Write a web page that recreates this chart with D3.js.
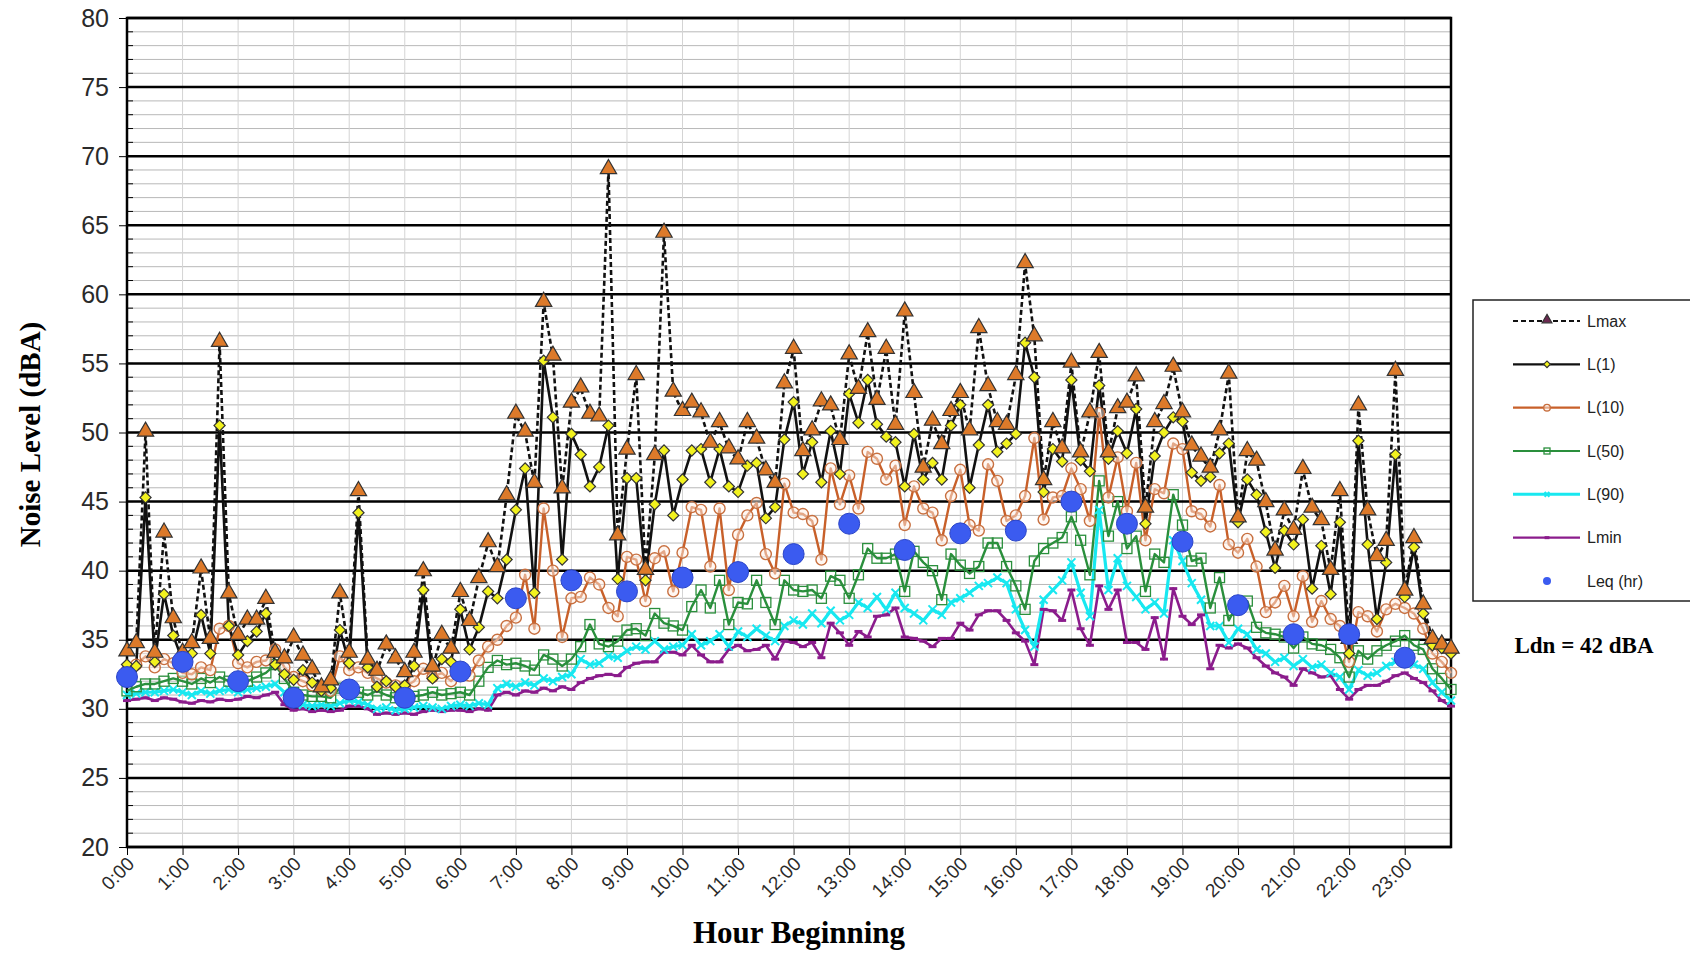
<!DOCTYPE html>
<html>
<head>
<meta charset="utf-8">
<script src="https://cdn.jsdelivr.net/npm/d3@7"></script>
<style>
  body { margin: 0; background: #fff; }
  svg { display: block; }
</style>
</head>
<body>
<div id="vis"></div>
<script>
// 10-minute readings, 0:00 .. 23:50
const hourLabels = d3.range(24).map(h => h + ":00");

const lmax = [
    34.1, 34.7, 50.0, 34.0, 42.7, 36.5, 34.0, 34.7, 40.1, 35.0, 56.5, 38.3,
    35.3, 36.4, 36.4, 37.9, 34.0, 33.6, 35.1, 33.8, 32.8, 31.5, 32.0, 38.3,
    34.0, 45.7, 33.5, 32.7, 34.6, 33.6, 32.6, 34.0, 39.9, 33.0, 35.3, 34.3,
    38.4, 36.3, 39.4, 42.0, 40.2, 45.4, 51.3, 50.0, 46.3, 59.4, 55.5, 45.9,
    52.1, 53.2, 51.3, 51.1, 69.0, 42.5, 48.7, 54.1, 40.0, 48.3, 64.4, 52.9,
    51.5, 52.1, 51.4, 49.2, 50.7, 48.8, 48.0, 50.7, 49.5, 47.2, 46.3, 53.5,
    56.0, 48.6, 50.1, 52.2, 51.9, 49.4, 55.6, 53.1, 57.2, 52.3, 56.0, 50.5,
    58.7, 52.8, 47.4, 50.8, 49.1, 51.5, 52.8, 50.1, 57.5, 53.3, 50.7, 50.5,
    54.1, 62.2, 56.9, 46.5, 50.7, 48.8, 55.0, 48.5, 51.4, 55.7, 48.5, 51.7,
    52.1, 54.0, 44.5, 50.7, 52.0, 54.7, 51.4, 49.0, 48.2, 47.4, 50.1, 54.2,
    43.8, 48.6, 47.9, 44.9, 41.4, 44.3, 42.9, 47.3, 44.5, 43.6, 40.0, 45.7,
    35.0, 51.9, 44.3, 41.0, 42.1, 54.4, 38.5, 42.3, 37.5, 35.0, 34.6, 34.3
];

const l1 = [
    33.2, 33.1, 45.3, 33.4, 38.3, 35.3, 33.5, 34.0, 36.8, 34.0, 50.5, 36.0,
    33.9, 34.9, 35.6, 36.9, 33.2, 32.5, 32.1, 32.8, 31.9, 31.3, 31.5, 35.7,
    33.3, 44.2, 33.0, 31.6, 32.0, 31.6, 31.7, 33.1, 38.6, 32.2, 33.6, 33.4,
    37.2, 34.3, 35.9, 38.5, 38.0, 40.8, 44.4, 47.4, 38.4, 55.2, 51.1, 40.8,
    49.9, 48.4, 46.1, 47.5, 50.5, 39.4, 46.7, 46.7, 39.3, 44.8, 48.7, 44.0,
    46.6, 48.7, 48.8, 46.4, 48.8, 46.1, 45.7, 47.6, 47.8, 43.8, 44.6, 49.5,
    52.2, 47.0, 49.3, 46.4, 50.1, 47.0, 52.8, 50.7, 53.8, 50.6, 49.7, 49.3,
    46.1, 49.9, 46.6, 47.8, 46.6, 50.5, 52.0, 46.0, 49.1, 52.0, 48.6, 49.2,
    49.9, 56.5, 54.0, 45.7, 48.8, 47.9, 53.8, 48.0, 47.2, 53.4, 48.1, 50.1,
    48.5, 51.7, 43.4, 48.3, 50.0, 51.1, 50.8, 47.1, 46.5, 46.8, 48.5, 49.2,
    43.5, 46.6, 45.5, 42.8, 40.2, 42.9, 41.9, 43.7, 38.7, 41.8, 38.3, 43.5,
    34.0, 49.4, 41.9, 36.5, 40.6, 48.4, 38.1, 41.7, 36.9, 34.6, 34.4, 34.0
];

const l10 = [
    32.8, 33.2, 33.8, 33.0, 33.6, 33.3, 32.6, 32.5, 33.0, 32.8, 35.8, 36.0,
    33.3, 33.0, 33.4, 33.5, 34.3, 33.0, 32.3, 32.0, 31.7, 31.4, 31.3, 33.8,
    32.8, 33.0, 32.6, 32.2, 31.9, 31.7, 31.6, 32.0, 32.9, 32.3, 32.6, 32.0,
    32.8, 32.4, 33.5, 34.5, 35.0, 36.0, 36.6, 39.7, 35.8, 44.5, 40.0, 35.2,
    38.0, 38.1, 39.5, 39.0, 37.3, 36.7, 41.0, 40.8, 37.8, 40.9, 41.4, 38.5,
    41.3, 44.6, 44.4, 40.3, 44.5, 38.6, 42.6, 44.0, 44.9, 41.2, 39.8, 46.3,
    44.2, 44.1, 43.6, 40.8, 47.4, 44.8, 46.9, 44.5, 48.6, 48.1, 46.6, 47.6,
    43.3, 46.1, 44.5, 44.2, 42.2, 45.4, 47.3, 43.3, 42.9, 47.7, 46.5, 43.6,
    44.0, 45.4, 49.6, 43.7, 45.3, 45.4, 47.4, 45.9, 43.6, 51.4, 45.3, 48.2,
    44.3, 47.8, 42.2, 45.9, 45.6, 49.2, 48.8, 44.3, 44.1, 43.2, 46.2, 41.9,
    41.3, 42.3, 40.3, 37.0, 37.7, 38.9, 36.7, 39.6, 36.3, 37.8, 36.5, 36.0,
    33.4, 37.0, 36.7, 35.6, 37.2, 37.6, 37.3, 36.9, 35.8, 34.0, 33.4, 32.6
];

const l50 = [
    31.3, 31.6, 31.8, 31.8, 32.0, 32.2, 32.0, 31.8, 32.2, 31.9, 32.3, 32.0,
    31.8, 32.0, 32.3, 32.6, 33.2, 32.2, 31.2, 31.0, 30.9, 30.9, 30.8, 31.5,
    31.4, 31.2, 31.0, 31.3, 31.0, 30.8, 30.8, 30.9, 31.0, 31.2, 31.0, 31.1,
    31.2, 31.0, 32.0, 33.0, 33.5, 33.2, 33.3, 33.1, 32.8, 33.9, 33.6, 33.1,
    33.6, 34.5, 36.1, 34.7, 34.5, 34.9, 35.7, 35.8, 35.3, 36.9, 36.2, 36.0,
    35.7, 37.4, 38.6, 37.3, 39.3, 36.1, 37.7, 37.6, 39.3, 37.7, 36.1, 39.3,
    38.6, 38.5, 38.6, 38.0, 39.6, 39.3, 38.0, 39.7, 41.6, 40.9, 40.9, 41.2,
    38.5, 41.4, 40.6, 40.0, 37.9, 41.2, 40.4, 39.8, 40.3, 42.0, 42.0, 40.3,
    38.9, 37.2, 40.7, 41.6, 42.0, 42.4, 43.9, 42.2, 39.7, 46.5, 42.5, 45.0,
    41.6, 42.5, 38.5, 41.2, 40.6, 45.5, 43.3, 40.7, 40.9, 37.3, 39.5, 36.4,
    37.7, 37.8, 35.9, 35.5, 35.4, 35.2, 34.4, 35.2, 34.7, 34.6, 34.3, 33.7,
    32.3, 34.2, 33.6, 34.2, 34.6, 34.9, 35.3, 34.6, 34.3, 32.9, 32.2, 31.4
];

const l90 = [
    31.0, 31.1, 31.2, 31.2, 31.3, 31.4, 31.2, 31.0, 31.3, 31.1, 31.3, 31.4,
    31.2, 31.4, 31.5, 31.6, 31.8, 31.2, 30.5, 30.3, 30.2, 30.3, 30.2, 30.4,
    30.6, 30.5, 30.3, 30.0, 30.1, 29.9, 30.0, 30.1, 30.2, 30.1, 30.0, 30.2,
    30.3, 30.2, 30.4, 30.3, 31.5, 31.8, 31.6, 31.9, 31.7, 32.2, 32.0, 32.3,
    32.5, 33.6, 33.2, 33.3, 33.8, 33.7, 34.2, 34.5, 34.3, 34.9, 34.3, 34.5,
    34.6, 35.4, 34.6, 34.9, 35.4, 34.5, 35.6, 35.2, 35.8, 35.3, 34.9, 36.0,
    36.4, 36.1, 36.9, 36.2, 37.1, 36.4, 36.8, 37.7, 37.3, 38.1, 37.2, 38.4,
    37.3, 36.9, 36.4, 37.2, 36.8, 37.7, 38.0, 38.4, 38.9, 39.1, 39.5, 39.1,
    37.2, 35.7, 34.5, 37.9, 38.6, 39.3, 40.6, 38.4, 36.7, 44.4, 38.6, 40.9,
    38.9, 38.1, 37.2, 37.7, 36.9, 42.2, 40.7, 39.1, 37.9, 36.0, 36.0, 34.8,
    35.8, 35.4, 34.3, 34.0, 33.4, 33.7, 33.1, 33.6, 33.0, 33.2, 32.6, 32.3,
    31.4, 32.8, 32.4, 32.6, 33.1, 33.4, 33.7, 33.2, 32.9, 31.9, 31.2, 30.6
];

const lmin = [
    30.6, 30.7, 30.8, 30.6, 30.8, 30.7, 30.5, 30.4, 30.6, 30.5, 30.7, 30.6,
    30.7, 30.9, 30.8, 31.0, 31.2, 30.3, 29.9, 30.0, 29.8, 29.9, 29.8, 29.9,
    30.2, 30.2, 30.0, 29.6, 29.7, 29.6, 29.7, 29.6, 29.8, 29.9, 29.8, 29.9,
    29.9, 29.8, 30.0, 29.9, 31.0, 31.2, 31.0, 31.3, 31.2, 31.5, 31.3, 31.6,
    31.4, 31.9, 32.2, 32.4, 32.5, 32.4, 33.0, 33.3, 33.4, 33.4, 34.1, 34.1,
    33.9, 34.6, 33.9, 33.4, 33.4, 34.3, 34.6, 34.2, 34.3, 34.6, 33.6, 34.9,
    34.8, 34.5, 34.8, 33.7, 36.2, 35.5, 34.6, 35.6, 35.2, 36.7, 36.8, 37.3,
    35.2, 35.1, 34.9, 34.5, 35.1, 35.1, 36.2, 35.7, 36.8, 37.1, 37.1, 36.4,
    35.5, 34.9, 33.2, 37.2, 37.1, 36.4, 38.6, 35.8, 34.6, 38.9, 37.2, 38.6,
    34.8, 34.8, 34.3, 36.6, 33.6, 38.7, 36.7, 36.1, 36.8, 32.9, 34.6, 34.4,
    34.7, 34.4, 33.7, 33.1, 32.6, 32.3, 31.7, 32.9, 32.6, 32.3, 32.4, 31.4,
    30.7, 31.4, 31.7, 31.7, 32.0, 32.4, 32.6, 32.2, 31.9, 31.3, 30.6, 30.2
];

// hourly Leq, one per hour beginning
const leqHr = [
    32.3, 33.4, 32.0, 30.8, 31.4, 30.8, 32.7, 38.0, 39.3, 38.5, 39.5, 39.9,
    41.2, 43.4, 41.5, 42.7, 42.9, 45.0, 43.4, 42.1, 37.5, 35.4, 35.4, 33.7
];

const ldnText = "Ldn = 42 dBA";

const W = 1690, H = 955;
const svg = d3.select("#vis").append("svg")
    .attr("width", W)
    .attr("height", H)
    .style("font-family", "'Liberation Sans', Arial, sans-serif");

const x = d3.scaleLinear().domain([0, 143]).range([127, 1451]);
const y = d3.scaleLinear().domain([20, 80]).range([847, 18]);

// grid
const grid = svg.append("g");
grid.selectAll("line.minor")
    .data(d3.range(21, 80).filter(v => v % 5 !== 0))
    .join("line")
    .attr("x1", x(0)).attr("x2", x(143))
    .attr("y1", d => y(d)).attr("y2", d => y(d))
    .attr("stroke", "#b8b8b8")
    .attr("stroke-width", 1);

grid.selectAll("line.vert")
    .data(d3.range(6, 144, 6))
    .join("line")
    .attr("x1", d => x(d)).attr("x2", d => x(d))
    .attr("y1", y(80)).attr("y2", y(20))
    .attr("stroke", "#d4d4d4")
    .attr("stroke-width", 1);

grid.selectAll("line.major")
    .data(d3.range(20, 81, 5))
    .join("line")
    .attr("x1", x(0)).attr("x2", x(143))
    .attr("y1", d => y(d)).attr("y2", d => y(d))
    .attr("stroke", "#000")
    .attr("stroke-width", 2.5);

// minor ticks on y axis
svg.append("g").selectAll("line")
    .data(d3.range(20, 81))
    .join("line")
    .attr("x1", x(0)).attr("x2", x(0) + 6)
    .attr("y1", d => y(d)).attr("y2", d => y(d))
    .attr("stroke", "#000");

// axes
const yAxis = svg.append("g")
    .attr("transform", `translate(${x(0)},0)`)
    .call(d3.axisLeft(y).tickValues(d3.range(20, 81, 5)).tickSize(8).tickPadding(10));
yAxis.select(".domain").remove();
yAxis.selectAll("text")
    .attr("font-size", 25)
    .attr("fill", "#2a2a2a");

const xAxis = svg.append("g")
    .attr("transform", `translate(0,${y(20)})`)
    .call(d3.axisBottom(x).tickValues(d3.range(0, 144, 6)).tickFormat(i => hourLabels[i / 6]).tickSize(8));
xAxis.select(".domain").remove();
xAxis.selectAll("text")
    .attr("font-size", 19)
    .attr("fill", "#2a2a2a")
    .attr("text-anchor", "end")
    .attr("x", 0).attr("y", 0).attr("dy", 0)
    .attr("transform", "translate(8,18) rotate(-45)");

// frame
svg.append("rect")
    .attr("x", x(0)).attr("y", y(80))
    .attr("width", x(143) - x(0)).attr("height", y(20) - y(80))
    .attr("fill", "none")
    .attr("stroke", "#000")
    .attr("stroke-width", 2.5);

// series
const line = d3.line().x((d, i) => x(i)).y(d => y(d));
const plot = svg.append("g");

const series = [
    { name: "Lmin", values: lmin, color: "#8b1c8c", width: 2.6, dash: null },
    { name: "L(90)", values: l90, color: "#18e8f0", width: 3.2, dash: null },
    { name: "L(50)", values: l50, color: "#2a8f3c", width: 2.4, dash: null },
    { name: "L(10)", values: l10, color: "#c8602a", width: 2.4, dash: null },
    { name: "L(1)", values: l1, color: "#111", width: 2.6, dash: null },
    { name: "Lmax", values: lmax, color: "#111", width: 2.6, dash: "5,3" }
];

series.forEach(s => {
    plot.append("path")
        .datum(s.values)
        .attr("d", line)
        .attr("fill", "none")
        .attr("stroke", s.color)
        .attr("stroke-width", s.width)
        .attr("stroke-dasharray", s.dash)
        .attr("stroke-linejoin", "round");
});

function drawMarkers(g, name, px, py, small) {
    const k = small ? 0.6 : 1;
    if (name === "Lmin") {
        g.append("line")
            .attr("x1", px - 4 * k).attr("x2", px + 4 * k)
            .attr("y1", py).attr("y2", py)
            .attr("stroke", "#8b1c8c").attr("stroke-width", 3);
    } else if (name === "L(90)") {
        g.append("path")
            .attr("d", `M${px - 4 * k},${py - 4 * k}L${px + 4 * k},${py + 4 * k}M${px - 4 * k},${py + 4 * k}L${px + 4 * k},${py - 4 * k}`)
            .attr("stroke", "#18e8f0").attr("stroke-width", 2);
    } else if (name === "L(50)") {
        g.append("rect")
            .attr("x", px - 5 * k).attr("y", py - 5 * k)
            .attr("width", 10 * k).attr("height", 10 * k)
            .attr("fill", "none").attr("stroke", "#2a8f3c").attr("stroke-width", 1.3);
    } else if (name === "L(10)") {
        g.append("circle")
            .attr("cx", px).attr("cy", py).attr("r", 5.5 * k)
            .attr("fill", "rgba(255,240,230,0.5)").attr("stroke", "#c87040").attr("stroke-width", 1.4);
    } else if (name === "L(1)") {
        g.append("path")
            .attr("transform", `translate(${px},${py}) rotate(45)`)
            .attr("d", d3.symbol(d3.symbolSquare, 62 * k * k)())
            .attr("fill", "#f2f21e").attr("stroke", "#333").attr("stroke-width", 1.2);
    } else if (name === "Lmax") {
        g.append("path")
            .attr("transform", `translate(${px},${py - 1})`)
            .attr("d", d3.symbol(d3.symbolTriangle, 115 * k * k)())
            .attr("fill", small ? "#6b2a50" : "#dd7a2a").attr("stroke", "#333").attr("stroke-width", 1.2);
    }
}

series.forEach(s => {
    const g = plot.append("g");
    s.values.forEach((v, i) => drawMarkers(g, s.name, x(i), y(v), false));
});

// hourly Leq
plot.append("g").selectAll("circle")
    .data(leqHr)
    .join("circle")
    .attr("cx", (d, i) => x(i * 6))
    .attr("cy", d => y(d))
    .attr("r", 10.5)
    .attr("fill", "#3b5bf0")
    .attr("stroke", "#2a44c8")
    .attr("stroke-width", 1);

// axis titles
svg.append("text")
    .attr("transform", `translate(40,${(y(20) + y(80)) / 2 + 2}) rotate(-90)`)
    .attr("text-anchor", "middle")
    .attr("font-family", "'Liberation Serif', 'Times New Roman', serif")
    .attr("font-weight", "bold")
    .attr("font-size", 29)
    .text("Noise Level (dBA)");

svg.append("text")
    .attr("x", 799).attr("y", 943)
    .attr("text-anchor", "middle")
    .attr("font-family", "'Liberation Serif', 'Times New Roman', serif")
    .attr("font-weight", "bold")
    .attr("font-size", 31)
    .text("Hour Beginning");

// legend
const legend = svg.append("g");
legend.append("rect")
    .attr("x", 1473).attr("y", 300)
    .attr("width", 230).attr("height", 301)
    .attr("fill", "#fff")
    .attr("stroke", "#222")
    .attr("stroke-width", 1.5);

const legendItems = ["Lmax", "L(1)", "L(10)", "L(50)", "L(90)", "Lmin", "Leq (hr)"];
const legendY = d3.scaleLinear().domain([0, 6]).range([321, 581]);
legendItems.forEach((name, i) => {
    const ly = legendY(i);
    const s = series.find(d => d.name === name);
    if (s) {
        legend.append("line")
            .attr("x1", 1513).attr("x2", 1580)
            .attr("y1", ly).attr("y2", ly)
            .attr("stroke", s.color)
            .attr("stroke-width", s.name === "L(90)" ? 3 : 2.2)
            .attr("stroke-dasharray", s.dash);
        drawMarkers(legend, name, 1547, ly, true);
    } else {
        legend.append("circle")
            .attr("cx", 1547).attr("cy", ly).attr("r", 4)
            .attr("fill", "#3b5bf0");
    }
    legend.append("text")
        .attr("x", 1587).attr("y", ly)
        .attr("dy", "0.35em")
        .attr("font-size", 16)
        .attr("fill", "#222")
        .text(name);
});

svg.append("text")
    .attr("x", 1584).attr("y", 653)
    .attr("text-anchor", "middle")
    .attr("font-family", "'Liberation Serif', 'Times New Roman', serif")
    .attr("font-weight", "bold")
    .attr("font-size", 23)
    .text(ldnText);
</script>
</body>
</html>
